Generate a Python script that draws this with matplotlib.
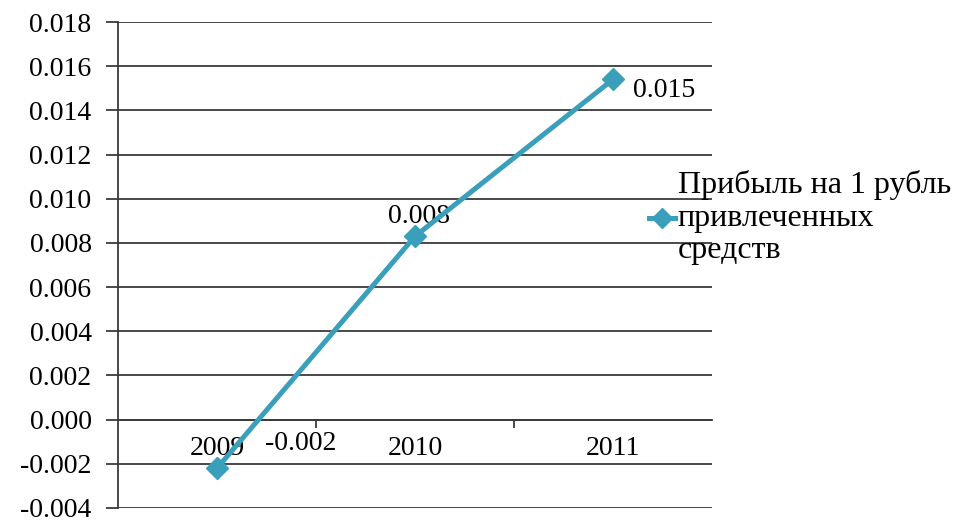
import matplotlib.pyplot as plt
import numpy as np

plt.rcParams['font.family'] = ['Liberation Serif', 'DejaVu Serif']

years = ['2009', '2010', '2011']
profit = [-0.0022, 0.0083, 0.0154]
profit_labels = ['-0.002', '0.008', '0.015']
series_name = 'Прибыль на 1 рубль\nпривлеченных\nсредств'
yticks = np.arange(-0.004, 0.0181, 0.002)

line_color = '#3A9FBA'
grid_color = '#3a3a3a'
fs = 20

fig = plt.figure(figsize=(9.57, 5.21), dpi=100)
ax = fig.add_axes([0.1233, 0.025, 0.6207, 0.9327])

x = np.arange(len(years))
ax.plot(x, profit, color=line_color, lw=3.6, marker='D', markersize=11,
        markeredgecolor=line_color, zorder=5, clip_on=False)

# data labels
ax.annotate(profit_labels[0], (x[0], profit[0]), xytext=(60, 18),
            textcoords='offset points', ha='center', va='center', fontsize=fs)
ax.annotate(profit_labels[1], (x[1], profit[1]), xytext=(3, 14),
            textcoords='offset points', ha='center', va='center', fontsize=fs)
ax.annotate(profit_labels[2], (x[2], profit[2]), xytext=(37, -8),
            textcoords='offset points', ha='center', va='center', fontsize=fs)

ax.set_xlim(-0.5, 2.5)
ax.set_ylim(-0.004, 0.018)
ax.set_yticks(yticks)
ax.set_yticklabels(['%.3f' % v for v in yticks])
ax.yaxis.grid(True, color=grid_color, lw=1.3)
ax.set_axisbelow(True)
ax.tick_params(axis='y', length=9, width=1.3, color=grid_color, pad=10,
               labelsize=fs)

# category axis crosses at zero
ax.spines['top'].set_visible(False)
ax.spines['right'].set_visible(False)
ax.spines['bottom'].set_position(('data', 0))
ax.spines['bottom'].set_color(grid_color)
ax.spines['bottom'].set_linewidth(1.3)
ax.spines['left'].set_color(grid_color)
ax.spines['left'].set_linewidth(1.3)
ax.set_xticks(x)
ax.set_xticklabels(years)
ax.set_xticks([0.5, 1.5], minor=True)
ax.tick_params(axis='x', which='major', length=0, pad=12, labelsize=fs)
ax.tick_params(axis='x', which='minor', length=6, width=1.3, color=grid_color)

# legend on the right
fig.text(0.708, 0.582, series_name, fontsize=23, va='center', ha='left',
         linespacing=1.15)
leg_ax = fig.add_axes([0.676, 0.562, 0.032, 0.04])
leg_ax.plot([0, 1], [0.5, 0.5], color=line_color, lw=3.6)
leg_ax.plot([0.5], [0.5], marker='D', markersize=10, color=line_color)
leg_ax.set_xlim(0, 1)
leg_ax.set_ylim(0, 1)
leg_ax.axis('off')

fig.savefig('out.png', dpi=100)
